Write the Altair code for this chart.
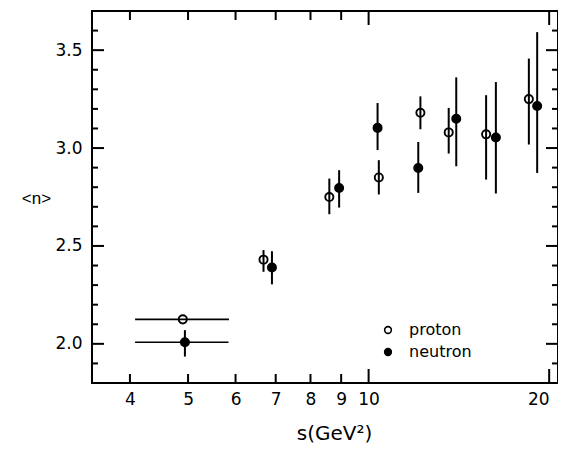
import altair as alt
import pandas as pd

# ---- data ----
s_proton = [4.90, 6.68, 8.60, 10.40, 12.20, 13.60, 15.70, 18.50]
n_proton = [2.125, 2.430, 2.750, 2.850, 3.180, 3.080, 3.070, 3.250]
lo_proton = [2.125, 2.368, 2.662, 2.763, 3.096, 2.972, 2.839, 3.018]
hi_proton = [2.125, 2.479, 2.844, 2.938, 3.264, 3.205, 3.270, 3.457]

s_neutron = [4.94, 6.90, 8.93, 10.35, 12.10, 14.00, 16.30, 19.10]
n_neutron = [2.008, 2.390, 2.796, 3.103, 2.898, 3.150, 3.054, 3.215]
lo_neutron = [1.935, 2.304, 2.696, 2.990, 2.771, 2.907, 2.768, 2.873]
hi_neutron = [2.070, 2.473, 2.887, 3.230, 3.031, 3.361, 3.337, 3.592]

# horizontal (s-bin) error bars on the lowest-energy points
xerr_particle = ["proton", "neutron"]
xerr_n = [2.125, 2.008]
xerr_lo = [4.08, 4.08]
xerr_hi = [5.85, 5.84]

x_labels = [4, 5, 6, 7, 8, 9, 10, 20]
x_major_ticks = [10, 20]
x_minor_ticks = [4, 5, 6, 7, 8, 9]
y_labels = [2.0, 2.5, 3.0, 3.5]
y_minor_ticks = [1.9, 2.1, 2.2, 2.3, 2.4, 2.6, 2.7, 2.8, 2.9, 3.1, 3.2, 3.3, 3.4, 3.6]

# ---- tables ----
pts = pd.DataFrame({
    "s": s_proton + s_neutron,
    "n": n_proton + n_neutron,
    "lo": lo_proton + lo_neutron,
    "hi": hi_proton + hi_neutron,
    "particle": ["proton"] * len(s_proton) + ["neutron"] * len(s_neutron),
})
xerr = pd.DataFrame({"particle": xerr_particle, "n": xerr_n, "s": xerr_lo, "shi": xerr_hi})
xmaj = pd.DataFrame({"s": x_major_ticks})
xmin = pd.DataFrame({"s": x_minor_ticks})
ymaj = pd.DataFrame({"n": y_labels})
ymin = pd.DataFrame({"n": y_minor_ticks})

W, H = 466, 372
FONT = "DejaVu Sans"
xscale = alt.Scale(type="log", domain=[3.458, 20.69], nice=False)
yscale = alt.Scale(domain=[1.8, 3.7], nice=False, zero=False)

xaxis = alt.Axis(values=x_labels, ticks=False, domain=False, grid=False,
                 labelFontSize=17, labelPadding=8, labelColor="black",
                 labelFont=FONT, labelFlush=12, labelOverlap=False,
                 title="s(GeV²)", titleFont=FONT, titleFontSize=20,
                 titleFontWeight="normal", titleColor="black",
                 titleX=242, titleY=50, titleBaseline="middle", titleAlign="center")
yaxis = alt.Axis(values=y_labels, format=".1f", ticks=False, domain=False, grid=False,
                 labelFontSize=17, labelPadding=10, labelColor="black", labelFont=FONT,
                 title="<n>", titleFont="Liberation Sans", titleFontSize=17,
                 titleFontWeight="normal",
                 titleColor="black", titleAngle=0, titleX=-56, titleY=187,
                 titleAlign="center", titleBaseline="middle")

X = lambda f: alt.X(f, scale=xscale, axis=xaxis)
Y = lambda f: alt.Y(f, scale=yscale, axis=yaxis)

yerr_layer = alt.Chart(pts).mark_rule(color="black", strokeWidth=2).encode(
    x=X("s:Q"), y=Y("lo:Q"), y2="hi:Q",
)
xerr_layer = alt.Chart(xerr).mark_rule(color="black", strokeWidth=1.6).encode(
    x=X("s:Q"), x2="shi:Q", y=Y("n:Q"),
)
point_layer = alt.Chart(pts).mark_point(filled=True, shape="circle", size=66,
                                        stroke="black", strokeWidth=1.9, opacity=1).encode(
    x=X("s:Q"),
    y=Y("n:Q"),
    fill=alt.Fill("particle:N",
                  scale=alt.Scale(domain=["proton", "neutron"], range=["white", "black"]),
                  legend=alt.Legend(orient="none", legendX=288, legendY=311, title=None,
                                    labelFontSize=16, labelFont=FONT, labelColor="black",
                                    symbolType="circle", symbolSize=45,
                                    symbolStrokeColor="black", symbolStrokeWidth=1.6,
                                    labelOffset=13, rowPadding=6, padding=0)),
)


def xticks(df, length):
    bottom = alt.Chart(df).mark_rule(color="black", strokeWidth=2).encode(
        x=X("s:Q"), y=alt.value(H), y2=alt.value(H - length))
    top = alt.Chart(df).mark_rule(color="black", strokeWidth=2).encode(
        x=X("s:Q"), y=alt.value(0), y2=alt.value(length))
    return [bottom, top]


def yticks(df, length):
    left = alt.Chart(df).mark_rule(color="black", strokeWidth=2).encode(
        y=Y("n:Q"), x=alt.value(0), x2=alt.value(length))
    right = alt.Chart(df).mark_rule(color="black", strokeWidth=2).encode(
        y=Y("n:Q"), x=alt.value(W), x2=alt.value(W - length))
    return [left, right]


layers = ([point_layer, yerr_layer, xerr_layer]
          + xticks(xmaj, 14) + xticks(xmin, 9)
          + yticks(ymaj, 12) + yticks(ymin, 6))

chart = alt.layer(*layers).properties(
    width=W, height=H,
    autosize=alt.AutoSizeParams(type="none"),
    padding={"left": 84, "top": 3, "right": 0, "bottom": 60},
    background="white",
).configure_view(stroke="black", strokeWidth=2)

chart.save("out.html", embed_options={"renderer": "svg", "actions": False})
